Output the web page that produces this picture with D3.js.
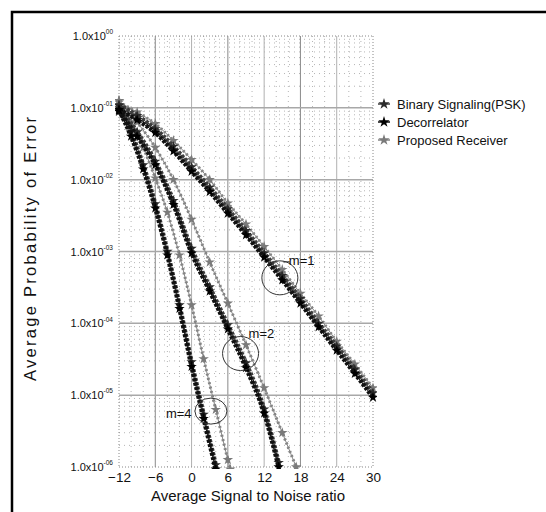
<!DOCTYPE html>
<html>
<head>
<meta charset="utf-8">
<script src="https://cdn.jsdelivr.net/npm/d3@7"></script>
<style>
  html, body { margin: 0; padding: 0; background: #fff; }
  svg { display: block; font-family: "Liberation Sans", Arial, sans-serif; }
</style>
</head>
<body>
<svg id="chart" width="546" height="512"></svg>
<script>
// x axis ticks (dB) and y decades
const xTicks = [-12, -6, 0, 6, 12, 18, 24, 30];
const yExps = [0, -1, -2, -3, -4, -5, -6];

// m = 1
const snrM1 = [-12, -9, -6, -3, 0, 3, 6, 9, 12, 15, 18, 21, 24, 27, 30];
const pskM1 = [1.1e-1, 7.8e-2, 5.1e-2, 2.9e-2, 1.5e-2, 7.8e-3, 3.9e-3, 1.95e-3, 9.5e-4, 4.6e-4, 2.2e-4, 1.0e-4, 4.8e-5, 2.3e-5, 1.07e-5];
const decM1 = [9.5e-2, 6.8e-2, 4.5e-2, 2.5e-2, 1.3e-2, 6.8e-3, 3.4e-3, 1.7e-3, 8.3e-4, 4.0e-4, 1.9e-4, 8.9e-5, 4.2e-5, 2.0e-5, 9.3e-6];
const propM1 = [1.2e-1, 8.7e-2, 6.0e-2, 3.5e-2, 1.9e-2, 1.0e-2, 4.7e-3, 2.4e-3, 1.17e-3, 5.6e-4, 2.6e-4, 1.26e-4, 5.6e-5, 2.7e-5, 1.26e-5];

// m = 2
const snrM2 = [-12, -9, -6, -3, 0, 3, 6, 9, 12, 14.4];
const pskM2 = [1.0e-1, 4.6e-2, 1.8e-2, 5.1e-3, 1.1e-3, 3.2e-4, 9.5e-5, 2.8e-5, 6.4e-6, 1.15e-6];
const decM2 = [8.9e-2, 4.0e-2, 1.6e-2, 4.5e-3, 9.5e-4, 2.8e-4, 8.3e-5, 2.4e-5, 5.6e-6, 1.0e-6];
const snrM2Prop = [-12, -9, -6, -3, 0, 3, 6, 9, 12, 15, 17.3];
const propM2 = [1.26e-1, 6.3e-2, 2.8e-2, 1.0e-2, 2.8e-3, 7.1e-4, 1.9e-4, 5.0e-5, 1.26e-5, 3.0e-6, 1.0e-6];

// m = 4
const snrM4 = [-12, -10, -8, -6, -4, -2, 0, 2, 4];
const pskM4 = [1.07e-1, 4.6e-2, 1.6e-2, 4.6e-3, 1.0e-3, 1.8e-4, 2.9e-5, 5.4e-6, 1.07e-6];
const decM4 = [9.3e-2, 4.0e-2, 1.4e-2, 4.0e-3, 8.9e-4, 1.6e-4, 2.5e-5, 4.7e-6, 9.3e-7];
const snrM4Prop = [-12, -10, -8, -6, -4, -2, 0, 2, 4, 6, 6.4];
const propM4 = [1.26e-1, 6.3e-2, 2.8e-2, 1.05e-2, 3.5e-3, 8.9e-4, 1.8e-4, 3.2e-5, 6.3e-6, 1.26e-6, 9.3e-7];

// annotation circles: label, snr, ber
const annLabels = ['m=1', 'm=2', 'm=4'];
const annSnr = [14.6, 8.1, 3.2];
const annBer = [4.3e-4, 3.8e-5, 6.0e-6];

const legendNames = ['Binary Signaling(PSK)', 'Decorrelator', 'Proposed Receiver'];

const styles = {
    psk: { color: '#3c3c3c', star: '#2a2a2a' },
    dec: { color: '#111', star: '#000' },
    prop: { color: '#858585', star: '#7a7a7a' }
};

const series = [
    { kind: 'prop', x: snrM1, y: propM1 },
    { kind: 'prop', x: snrM2Prop, y: propM2 },
    { kind: 'prop', x: snrM4Prop, y: propM4 },
    { kind: 'psk', x: snrM1, y: pskM1 },
    { kind: 'psk', x: snrM2, y: pskM2 },
    { kind: 'psk', x: snrM4, y: pskM4 },
    { kind: 'dec', x: snrM1, y: decM1 },
    { kind: 'dec', x: snrM2, y: decM2 },
    { kind: 'dec', x: snrM4, y: decM4 }
];

const svg = d3.select('#chart');
const plotLeft = 119, plotRight = 373, plotTop = 36, plotBottom = 467;

const x = d3.scaleLinear().domain([-12, 30]).range([plotLeft, plotRight]);
const y = d3.scaleLog().domain([1e-6, 1]).range([plotBottom, plotTop]);

// outer frame
svg.append('rect')
    .attr('x', 12).attr('y', 12)
    .attr('width', 545).attr('height', 515)
    .attr('fill', 'none')
    .attr('stroke', '#000')
    .attr('stroke-width', 2.5);

const grid = svg.append('g');

// minor grid
const minorX = d3.range(-10, 30, 2).filter(v => (v + 12) % 6 !== 0);
grid.selectAll('.mx').data(minorX).enter().append('line')
    .attr('x1', d => x(d)).attr('x2', d => x(d))
    .attr('y1', plotTop).attr('y2', plotBottom)
    .attr('stroke', '#b5b5b5').attr('stroke-width', 1)
    .attr('stroke-dasharray', '1 4');

const minorY = [];
yExps.slice(1).forEach(e => {
    for (let k = 2; k <= 9; k++) minorY.push(k * Math.pow(10, e));
});
grid.selectAll('.my').data(minorY).enter().append('line')
    .attr('x1', plotLeft).attr('x2', plotRight)
    .attr('y1', d => y(d)).attr('y2', d => y(d))
    .attr('stroke', '#b5b5b5').attr('stroke-width', 1)
    .attr('stroke-dasharray', '1 4');

// major grid
grid.selectAll('.Mx').data(xTicks.slice(1, -1)).enter().append('line')
    .attr('x1', d => x(d)).attr('x2', d => x(d))
    .attr('y1', plotTop).attr('y2', plotBottom)
    .attr('stroke', (d, i) => i % 2 === 0 ? '#8a8a8a' : '#b0b0b0')
    .attr('stroke-width', 1);

grid.selectAll('.My').data(yExps.slice(1, -1)).enter().append('line')
    .attr('x1', plotLeft).attr('x2', plotRight)
    .attr('y1', d => y(Math.pow(10, d))).attr('y2', d => y(Math.pow(10, d)))
    .attr('stroke', '#a8a8a8')
    .attr('stroke-width', 1.5);

// plot border (dotted)
[[plotLeft, plotTop, plotRight, plotTop], [plotLeft, plotBottom, plotRight, plotBottom],
 [plotLeft, plotTop, plotLeft, plotBottom], [plotRight, plotTop, plotRight, plotBottom]]
    .forEach(c => {
        grid.append('line')
            .attr('x1', c[0]).attr('y1', c[1]).attr('x2', c[2]).attr('y2', c[3])
            .attr('stroke', '#888').attr('stroke-width', 1)
            .attr('stroke-dasharray', '1 2');
    });

// axes
const xAxis = svg.append('g')
    .attr('transform', `translate(0,${plotBottom})`)
    .call(d3.axisBottom(x).tickValues(xTicks).tickSize(0).tickPadding(4));
xAxis.select('.domain').remove();
xAxis.selectAll('text')
    .attr('font-size', 13.5)
    .attr('font-family', '"Liberation Sans", Arial, sans-serif')
    .attr('fill', '#111')
    .attr('dy', '0.82em');

const yAxis = svg.append('g')
    .attr('transform', `translate(${plotLeft - 6},0)`)
    .call(d3.axisLeft(y).tickValues(yExps.map(e => Math.pow(10, e))).tickSize(0).tickPadding(0).tickFormat(''));
yAxis.select('.domain').remove();
yAxis.selectAll('.tick text').each(function(d) {
    const e = Math.round(Math.log10(d));
    const t = d3.select(this)
        .attr('font-size', 11)
        .attr('font-family', '"Liberation Sans", Arial, sans-serif')
        .attr('fill', '#111')
        .attr('dy', '0.32em');
    t.append('tspan').text('1.0x10');
    t.append('tspan')
        .attr('font-size', 6.5)
        .attr('dy', '-0.9em')
        .text(e === 0 ? '00' : '-0' + Math.abs(e));
});

// axis titles
svg.append('text')
    .attr('x', 248).attr('y', 501)
    .attr('text-anchor', 'middle')
    .attr('font-size', 15)
    .attr('fill', '#111')
    .text('Average Signal to Noise ratio');

svg.append('text')
    .attr('transform', 'translate(36,249) rotate(-90)')
    .attr('text-anchor', 'middle')
    .attr('font-size', 16.5)
    .attr('textLength', 264)
    .attr('lengthAdjust', 'spacing')
    .attr('fill', '#111')
    .text('Average Probability of Error');

// curves
svg.append('defs').append('clipPath').attr('id', 'plot-clip')
    .append('rect')
    .attr('x', plotLeft - 4).attr('y', plotTop - 4)
    .attr('width', plotRight - plotLeft + 8).attr('height', plotBottom - plotTop + 6);

const curves = svg.append('g').attr('clip-path', 'url(#plot-clip)');

const line = d3.line()
    .x(d => x(d[0]))
    .y(d => y(d[1]))
    .curve(d3.curveMonotoneX);

const star = d3.symbol().type(d3.symbolStar).size(34);

series.forEach(s => {
    const st = styles[s.kind];
    const pts = s.x.map((v, i) => [v, s.y[i]]);
    const gs = curves.append('g').attr('class', 'series ' + s.kind);

    gs.append('path')
        .datum(pts)
        .attr('d', line)
        .attr('fill', 'none')
        .attr('stroke', st.color)
        .attr('stroke-width', s.kind === 'prop' ? 3 : 4.5)
        .attr('stroke-dasharray', s.kind === 'prop' ? '2 2.5' : '3 1.5');

    gs.append('path')
        .datum(pts)
        .attr('d', line)
        .attr('fill', 'none')
        .attr('stroke', st.color)
        .attr('stroke-width', 1);

    gs.selectAll('path.pt')
        .data(pts)
        .enter().append('path')
        .attr('class', 'pt')
        .attr('transform', d => `translate(${x(d[0])},${y(d[1])})`)
        .attr('d', star)
        .attr('fill', st.star);
});

// annotations
const ann = svg.append('g');
const annOffsets = [[9, -13], [8, -16], [-45, 7]];
annLabels.forEach((lab, i) => {
    const cx = x(annSnr[i]), cy = y(annBer[i]);
    ann.append('ellipse')
        .attr('cx', cx).attr('cy', cy)
        .attr('rx', i === 2 ? 16 : 18).attr('ry', i === 2 ? 13 : 17)
        .attr('fill', 'none')
        .attr('stroke', '#333')
        .attr('stroke-width', 1);
    if (i === 0) {
        ann.append('line')
            .attr('x1', cx + 3).attr('y1', cy - 16)
            .attr('x2', cx + 10).attr('y2', cy - 16)
            .attr('stroke', '#333');
    }
    ann.append('text')
        .attr('x', cx + annOffsets[i][0])
        .attr('y', cy + annOffsets[i][1])
        .attr('font-size', 13)
        .attr('fill', '#111')
        .text(lab);
});

// legend
const legend = svg.append('g').attr('transform', 'translate(384,104)');
const legendKinds = ['psk', 'dec', 'prop'];
legendNames.forEach((name, i) => {
    const st = styles[legendKinds[i]];
    const row = legend.append('g').attr('transform', `translate(0,${i * 18})`);
    row.append('line')
        .attr('x1', -6).attr('x2', 6)
        .attr('stroke', st.color).attr('stroke-width', 1.5);
    row.append('path')
        .attr('d', d3.symbol().type(d3.symbolStar).size(40)())
        .attr('fill', st.star);
    row.append('text')
        .attr('x', 13).attr('dy', '0.35em')
        .attr('font-size', 13)
        .attr('fill', '#111')
        .text(name);
});
</script>
</body>
</html>
